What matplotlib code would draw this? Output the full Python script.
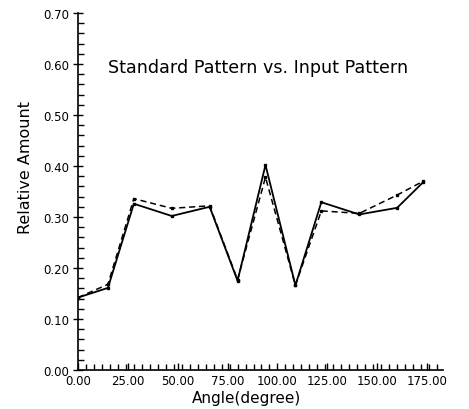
import matplotlib
matplotlib.use("Agg")
import matplotlib.pyplot as plt
import numpy as np
from matplotlib.ticker import MultipleLocator, FixedLocator

# Data
angles = [0, 15, 28, 47, 66, 80, 94, 109, 122, 141, 160, 173]
standard = [0.142, 0.161, 0.326, 0.302, 0.320, 0.175, 0.402, 0.166, 0.329, 0.305, 0.318, 0.368]
input_pat = [0.142, 0.168, 0.336, 0.317, 0.322, 0.177, 0.378, 0.166, 0.312, 0.307, 0.343, 0.370]

x_ticks = [0, 25, 50, 75, 100, 125, 150, 175]
x_tick_labels = ["0.00", "25.00", "50.00", "75.00", "100.00", "125.00", "150.00", "175.00"]
y_ticks = [0.0, 0.1, 0.2, 0.3, 0.4, 0.5, 0.6, 0.7]
y_tick_labels = ["0.00", "0.10", "0.20", "0.30", "0.40", "0.50", "0.60", "0.70"]

title_text = "Standard Pattern vs. Input Pattern"
xlabel_text = "Angle(degree)"
ylabel_text = "Relative Amount"

fig = plt.figure(figsize=(4.69, 4.10), dpi=100)
ax = fig.add_axes([78/469, 1-371/410, (443-78)/469, (371-14)/410])

ax.plot(angles, standard, color="black", lw=1.3, ls="-", marker="s", ms=2)
ax.plot(angles, input_pat, color="black", lw=1.1, ls=(0, (4, 2.5)), marker="s", ms=2)

ax.set_xlim(0, 183)
ax.set_ylim(0, 0.70)

for s in ["top", "right"]:
    ax.spines[s].set_visible(False)
for s in ["left", "bottom"]:
    ax.spines[s].set_linewidth(1.2)

ax.xaxis.set_major_locator(FixedLocator(x_ticks))
ax.set_xticklabels(x_tick_labels)
ax.xaxis.set_minor_locator(MultipleLocator(4))
ax.yaxis.set_major_locator(FixedLocator(y_ticks))
ax.set_yticklabels(y_tick_labels)
ax.yaxis.set_minor_locator(MultipleLocator(0.02))

ax.tick_params(axis="x", which="major", direction="in", length=5, width=1, labelsize=8.5, pad=3)
ax.tick_params(axis="x", which="minor", direction="in", length=4, width=1)
ax.tick_params(axis="y", which="major", direction="inout", length=7, width=1, labelsize=8.5, pad=3)
ax.tick_params(axis="y", which="minor", direction="in", length=4, width=1)

ax.set_xlabel(xlabel_text, fontsize=11)
ax.xaxis.set_label_coords((247-78)/365, -0.057)
ax.set_ylabel(ylabel_text, fontsize=11.5)
ax.yaxis.set_label_coords(-0.123, (371-168)/357)

ax.text(15, 0.594, title_text, fontsize=12.6, ha="left", va="center")

fig.savefig("out.png", dpi=100)
